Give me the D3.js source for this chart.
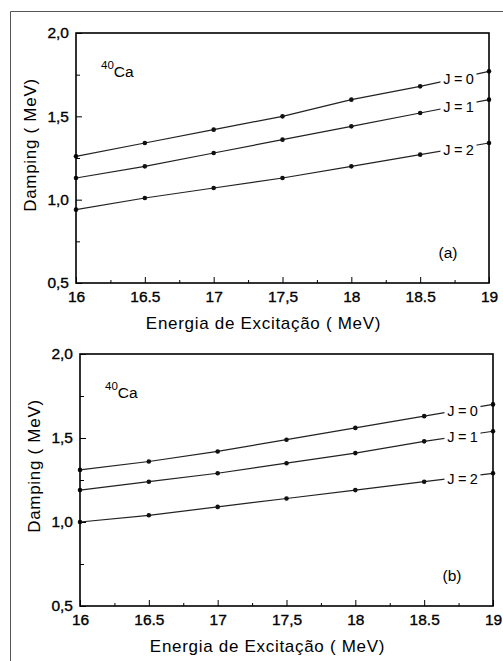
<!DOCTYPE html>
<html>
<head>
<meta charset="utf-8">
<script src="https://cdn.jsdelivr.net/npm/d3@7"></script>
<style>
  body { margin: 0; background: #fff; }
  svg { display: block; font-family: "Liberation Sans", Arial, sans-serif; }
  .tick text { font-size: 15.5px; fill: #000; stroke: #000; stroke-width: 0.35px; }
</style>
</head>
<body>
<script>
// data
var energy = [16, 16.5, 17, 17.5, 18, 18.5, 19];
var xTickLabels = ["16", "16.5", "17", "17,5", "18", "18.5", "19"];
var yTicks = [0.5, 1.0, 1.5, 2.0];
var yTickLabels = ["0,5", "1,0", "1,5", "2,0"];
var seriesNames = ["J = 0", "J = 1", "J = 2"];

var dampingA_J0 = [1.26, 1.34, 1.42, 1.50, 1.60, 1.68, 1.77];
var dampingA_J1 = [1.13, 1.20, 1.28, 1.36, 1.44, 1.52, 1.60];
var dampingA_J2 = [0.94, 1.01, 1.07, 1.13, 1.20, 1.27, 1.34];

var dampingB_J0 = [1.31, 1.36, 1.42, 1.49, 1.56, 1.63, 1.70];
var dampingB_J1 = [1.19, 1.24, 1.29, 1.35, 1.41, 1.48, 1.54];
var dampingB_J2 = [1.00, 1.04, 1.09, 1.14, 1.19, 1.24, 1.29];

var width = 503, height = 661;

var svg = d3.select("body").append("svg")
    .attr("width", width)
    .attr("height", height);

// outer frame of the scanned page
svg.append("path")
    .attr("d", "M10.5,661V11.5H503")
    .attr("fill", "none")
    .attr("stroke", "#555")
    .attr("stroke-width", 1);

var panels = [
    { left: 76, top: 33, right: 489, bottom: 283, tag: "(a)",
      series: [dampingA_J0, dampingA_J1, dampingA_J2] },
    { left: 80, top: 354, right: 493, bottom: 606, tag: "(b)",
      series: [dampingB_J0, dampingB_J1, dampingB_J2] }
];

panels.forEach(drawPanel);

function drawPanel(p) {
    var x = d3.scaleLinear().domain([16, 19]).range([p.left, p.right]);
    var y = d3.scaleLinear().domain([0.5, 2.0]).range([p.bottom, p.top]);
    var g = svg.append("g");

    // minor ticks
    g.append("g")
        .attr("transform", "translate(0," + p.bottom + ")")
        .call(d3.axisBottom(x).tickValues(d3.range(16.25, 19, 0.5)).tickSize(-3).tickFormat(""))
        .call(function(s) { s.select(".domain").remove(); });
    g.append("g")
        .attr("transform", "translate(" + p.left + ",0)")
        .call(d3.axisLeft(y).tickValues([0.75, 1.25, 1.75]).tickSize(-4).tickFormat(""))
        .call(function(s) { s.select(".domain").remove(); });

    // major ticks + labels
    g.append("g")
        .attr("transform", "translate(0," + p.bottom + ")")
        .call(d3.axisBottom(x).tickValues(energy).tickSize(-6).tickPadding(8)
            .tickFormat(function(d, i) { return xTickLabels[i]; }))
        .call(function(s) { s.select(".domain").remove(); });
    g.append("g")
        .attr("transform", "translate(" + p.left + ",0)")
        .call(d3.axisLeft(y).tickValues(yTicks).tickSize(-6).tickPadding(7)
            .tickFormat(function(d, i) { return yTickLabels[i]; }))
        .call(function(s) { s.select(".domain").remove(); });

    // lines
    var line = d3.line()
        .x(function(d, i) { return x(energy[i]); })
        .y(function(d) { return y(d); });

    p.series.forEach(function(vals, k) {
        g.append("path")
            .datum(vals)
            .attr("d", line)
            .attr("fill", "none")
            .attr("stroke", "#222")
            .attr("stroke-width", 1.2);

        g.selectAll(null)
            .data(vals)
            .enter().append("circle")
            .attr("cx", function(d, i) { return x(energy[i]); })
            .attr("cy", function(d) { return y(d); })
            .attr("r", 2.3)
            .attr("fill", "#111");

        // label sits on the line near 18.8 MeV
        var lx = 18.8;
        var ly = vals[5] + (vals[6] - vals[5]) * (lx - 18.5) / 0.5;
        var lab = g.append("g")
            .attr("transform", "translate(" + (x(lx) - 3) + "," + (y(ly) + 2) + ")");
        lab.append("rect")
            .attr("x", -18).attr("y", -9)
            .attr("width", 36).attr("height", 18)
            .attr("fill", "#fff");
        lab.append("text")
            .attr("text-anchor", "middle")
            .attr("dy", "0.35em")
            .attr("font-size", 14.5)
            .attr("letter-spacing", -0.3)
            .text(seriesNames[k]);
    });

    // plot frame
    g.append("rect")
        .attr("x", p.left).attr("y", p.top)
        .attr("width", p.right - p.left)
        .attr("height", p.bottom - p.top)
        .attr("fill", "none")
        .attr("stroke", "#000")
        .attr("stroke-width", 1.6);

    // 40Ca
    var ca = g.append("text")
        .attr("x", p.left + 25)
        .attr("y", p.top + 44)
        .attr("font-size", 15.5);
    ca.append("tspan").attr("font-size", 11.5).attr("dy", -8).text("40");
    ca.append("tspan").attr("dy", 8).text("Ca");

    // panel tag
    g.append("text")
        .attr("x", p.right - 41)
        .attr("y", p.bottom - 30)
        .attr("text-anchor", "middle")
        .attr("dy", "0.35em")
        .attr("font-size", 15.5)
        .text(p.tag);

    // axis titles
    g.append("text")
        .attr("x", (p.left + p.right) / 2 - 19)
        .attr("y", p.bottom + 46)
        .attr("text-anchor", "middle")
        .attr("font-size", 17)
        .attr("letter-spacing", 0.7)
        .text("Energia de Excitação ( MeV)");

    g.append("text")
        .attr("transform", "translate(" + (p.left - 40) + "," + (p.top + 112) + ") rotate(-90)")
        .attr("text-anchor", "middle")
        .attr("font-size", 17)
        .attr("letter-spacing", 0.7)
        .text("Damping ( MeV)");
}
</script>
</body>
</html>
